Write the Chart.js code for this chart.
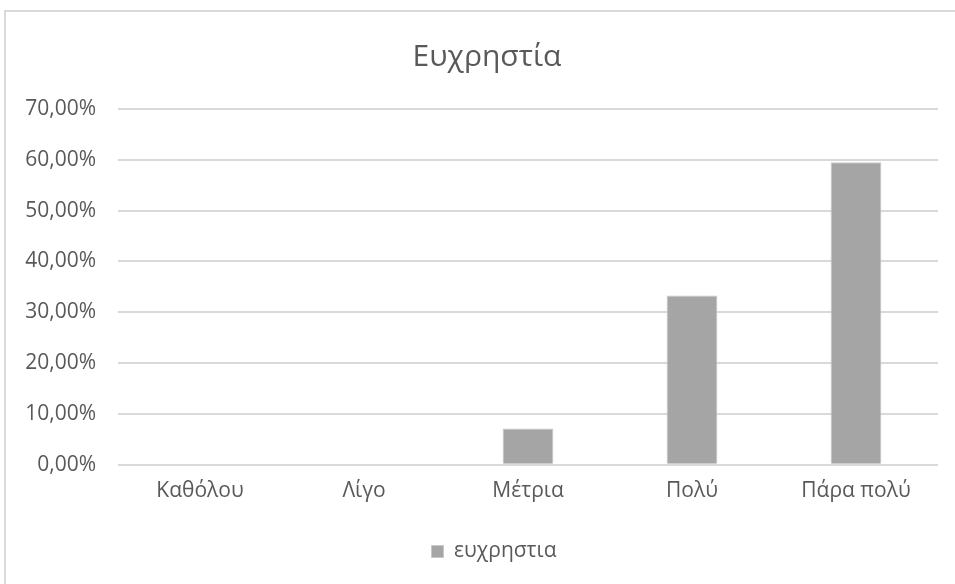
<!DOCTYPE html>
<html>
<head>
<meta charset="utf-8">
<script src="https://cdn.jsdelivr.net/npm/chart.js@4.4.1/dist/chart.umd.min.js"></script>
<style>
  html, body { margin: 0; padding: 0; background: #fff; }
  #frame {
    position: absolute; left: 4px; top: 10px; width: 960px; height: 590px;
    border: 2px solid #d9d9d9; box-sizing: border-box;
  }
  #wrap { position: absolute; left: 0; top: 0; width: 955px; height: 584px; }
</style>
</head>
<body>
<div id="frame"></div>
<div id="wrap"><canvas id="usabilityChart"></canvas></div>
<script>
const categories = ["Καθόλου", "Λίγο", "Μέτρια", "Πολύ", "Πάρα πολύ"];
const usability = [0, 0, 7.14, 33.33, 59.52];
const seriesName = "ευχρηστια";
const chartTitle = "Ευχρηστία";

const textColor = "#595959";
const gridColor = "#d9d9d9";
const fontFamily = "'Open Sans', sans-serif";

const ctx = document.getElementById("usabilityChart").getContext("2d");

// title and legend sit centred on the whole frame, not on the padded canvas
const centreShift = {
    id: "centreShift",
    afterLayout(chart) {
        if (chart.titleBlock) {
            chart.titleBlock.left += 11;
            chart.titleBlock.right += 11;
        }
        if (chart.legend) {
            chart.legend.left += 18;
            chart.legend.right += 18;
        }
    }
};

const chart = new Chart(ctx, {
    type: "bar",
    data: {
        labels: categories,
        datasets: [
            {
                label: seriesName,
                data: usability,
                backgroundColor: "#a5a5a5",
                borderColor: "#c8c8c8",
                borderWidth: 1,
                categoryPercentage: 0.31,
                barPercentage: 1
            }
        ]
    },
    options: {
        responsive: true,
        maintainAspectRatio: false,
        animation: false,
        layout: { padding: { left: 14, right: 17, top: 39, bottom: 12 } },
        plugins: {
            title: {
                display: true,
                text: chartTitle,
                color: textColor,
                font: { family: fontFamily, size: 30, weight: "normal" },
                padding: { top: 0, bottom: 34 }
            },
            legend: {
                position: "bottom",
                labels: {
                    color: textColor,
                    font: { family: fontFamily, size: 21 },
                    boxWidth: 12,
                    boxHeight: 12,
                    padding: 20
                }
            },
            tooltip: { enabled: false }
        },
        scales: {
            x: {
                grid: { display: false },
                border: { display: false },
                afterFit: scale => { scale.height += 11; },
                ticks: {
                    color: textColor,
                    font: { family: fontFamily, size: 21 },
                    padding: 6
                }
            },
            y: {
                min: 0,
                max: 70,
                afterFit: scale => { scale.width = 104; },
                grid: { color: gridColor, lineWidth: 2, drawTicks: false },
                border: { display: false },
                ticks: {
                    stepSize: 10,
                    color: textColor,
                    font: { family: fontFamily, size: 21 },
                    padding: 22,
                    callback: v => v.toFixed(2).replace(".", ",") + "%"
                }
            }
        }
    },
    plugins: [centreShift]
});
</script>
</body>
</html>
